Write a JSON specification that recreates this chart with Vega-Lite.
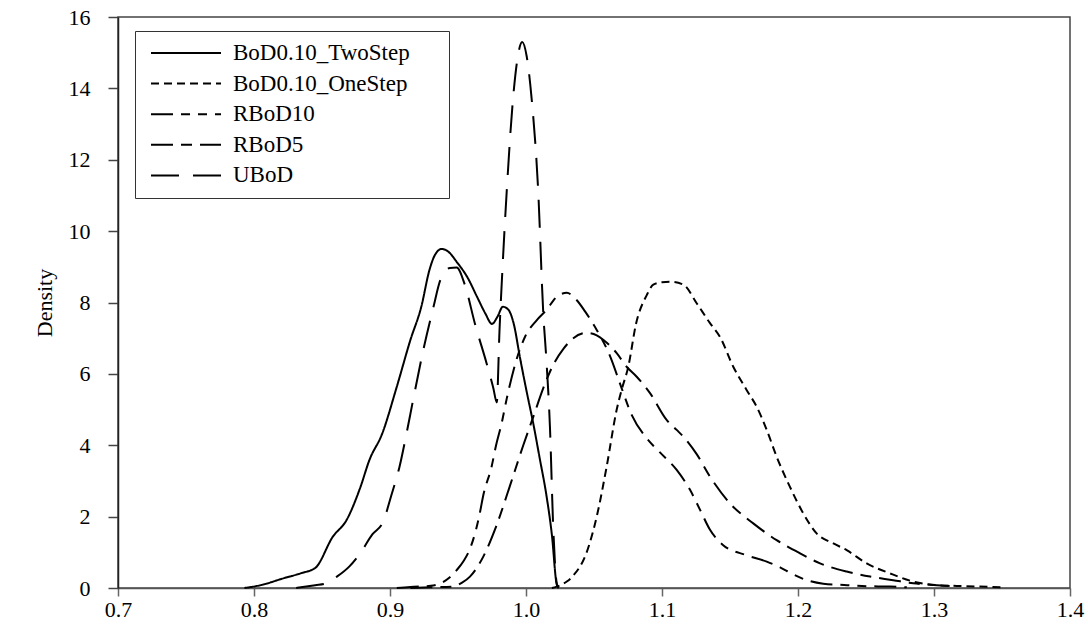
{
  "$schema": "https://vega.github.io/schema/vega-lite/v6.json",
  "width": 952,
  "height": 571,
  "autosize": {"type": "none"},
  "padding": {"left": 118, "top": 17, "right": 18, "bottom": 45},
  "background": "white",
  "config": {
    "view": {"stroke": "#444", "strokeWidth": 1.5},
    "font": "Liberation Serif",
    "axis": {"grid": false, "domainWidth": 1.5, "tickWidth": 1.5}
  },
  "data": {"values": [
    {"s": "BoD0.10_TwoStep", "x": 0.793, "d": 0.0},
    {"s": "BoD0.10_TwoStep", "x": 0.805, "d": 0.08},
    {"s": "BoD0.10_TwoStep", "x": 0.8215, "d": 0.27},
    {"s": "BoD0.10_TwoStep", "x": 0.835, "d": 0.42},
    {"s": "BoD0.10_TwoStep", "x": 0.845, "d": 0.56},
    {"s": "BoD0.10_TwoStep", "x": 0.858, "d": 1.44},
    {"s": "BoD0.10_TwoStep", "x": 0.868, "d": 1.9},
    {"s": "BoD0.10_TwoStep", "x": 0.878, "d": 2.8},
    {"s": "BoD0.10_TwoStep", "x": 0.885, "d": 3.6},
    {"s": "BoD0.10_TwoStep", "x": 0.894, "d": 4.3},
    {"s": "BoD0.10_TwoStep", "x": 0.905, "d": 5.64},
    {"s": "BoD0.10_TwoStep", "x": 0.915, "d": 6.95},
    {"s": "BoD0.10_TwoStep", "x": 0.923, "d": 7.88},
    {"s": "BoD0.10_TwoStep", "x": 0.929, "d": 8.91},
    {"s": "BoD0.10_TwoStep", "x": 0.933, "d": 9.33},
    {"s": "BoD0.10_TwoStep", "x": 0.938, "d": 9.5},
    {"s": "BoD0.10_TwoStep", "x": 0.943, "d": 9.42},
    {"s": "BoD0.10_TwoStep", "x": 0.949, "d": 9.14},
    {"s": "BoD0.10_TwoStep", "x": 0.957, "d": 8.7},
    {"s": "BoD0.10_TwoStep", "x": 0.964, "d": 8.16},
    {"s": "BoD0.10_TwoStep", "x": 0.97, "d": 7.7},
    {"s": "BoD0.10_TwoStep", "x": 0.975, "d": 7.4},
    {"s": "BoD0.10_TwoStep", "x": 0.979, "d": 7.6},
    {"s": "BoD0.10_TwoStep", "x": 0.983, "d": 7.88},
    {"s": "BoD0.10_TwoStep", "x": 0.987, "d": 7.8},
    {"s": "BoD0.10_TwoStep", "x": 0.991, "d": 7.4},
    {"s": "BoD0.10_TwoStep", "x": 0.9956, "d": 6.45},
    {"s": "BoD0.10_TwoStep", "x": 1.0005, "d": 5.5},
    {"s": "BoD0.10_TwoStep", "x": 1.0054, "d": 4.6},
    {"s": "BoD0.10_TwoStep", "x": 1.01, "d": 3.65},
    {"s": "BoD0.10_TwoStep", "x": 1.015, "d": 2.6},
    {"s": "BoD0.10_TwoStep", "x": 1.019, "d": 1.5},
    {"s": "BoD0.10_TwoStep", "x": 1.0226, "d": 0.1},
    {"s": "BoD0.10_TwoStep", "x": 1.024, "d": 0.0},

    {"s": "BoD0.10_OneStep", "x": 1.019, "d": 0.0},
    {"s": "BoD0.10_OneStep", "x": 1.0226, "d": 0.04},
    {"s": "BoD0.10_OneStep", "x": 1.03, "d": 0.18},
    {"s": "BoD0.10_OneStep", "x": 1.0348, "d": 0.35},
    {"s": "BoD0.10_OneStep", "x": 1.0446, "d": 1.0},
    {"s": "BoD0.10_OneStep", "x": 1.052, "d": 2.0},
    {"s": "BoD0.10_OneStep", "x": 1.0593, "d": 3.4},
    {"s": "BoD0.10_OneStep", "x": 1.0667, "d": 5.0},
    {"s": "BoD0.10_OneStep", "x": 1.0703, "d": 5.55},
    {"s": "BoD0.10_OneStep", "x": 1.0752, "d": 6.2},
    {"s": "BoD0.10_OneStep", "x": 1.081, "d": 7.42},
    {"s": "BoD0.10_OneStep", "x": 1.0887, "d": 8.2},
    {"s": "BoD0.10_OneStep", "x": 1.0936, "d": 8.5},
    {"s": "BoD0.10_OneStep", "x": 1.1, "d": 8.57},
    {"s": "BoD0.10_OneStep", "x": 1.106, "d": 8.58},
    {"s": "BoD0.10_OneStep", "x": 1.1157, "d": 8.5},
    {"s": "BoD0.10_OneStep", "x": 1.1255, "d": 7.98},
    {"s": "BoD0.10_OneStep", "x": 1.1353, "d": 7.42},
    {"s": "BoD0.10_OneStep", "x": 1.1426, "d": 7.04},
    {"s": "BoD0.10_OneStep", "x": 1.1524, "d": 6.2},
    {"s": "BoD0.10_OneStep", "x": 1.1622, "d": 5.55},
    {"s": "BoD0.10_OneStep", "x": 1.1696, "d": 5.08},
    {"s": "BoD0.10_OneStep", "x": 1.177, "d": 4.43},
    {"s": "BoD0.10_OneStep", "x": 1.1843, "d": 3.68},
    {"s": "BoD0.10_OneStep", "x": 1.194, "d": 2.84},
    {"s": "BoD0.10_OneStep", "x": 1.2039, "d": 2.09},
    {"s": "BoD0.10_OneStep", "x": 1.2137, "d": 1.53},
    {"s": "BoD0.10_OneStep", "x": 1.226, "d": 1.25},
    {"s": "BoD0.10_OneStep", "x": 1.2358, "d": 1.06},
    {"s": "BoD0.10_OneStep", "x": 1.2505, "d": 0.69},
    {"s": "BoD0.10_OneStep", "x": 1.2676, "d": 0.41},
    {"s": "BoD0.10_OneStep", "x": 1.2848, "d": 0.18},
    {"s": "BoD0.10_OneStep", "x": 1.302, "d": 0.08},
    {"s": "BoD0.10_OneStep", "x": 1.324, "d": 0.05},
    {"s": "BoD0.10_OneStep", "x": 1.35, "d": 0.02},

    {"s": "RBoD10", "x": 0.905, "d": 0.0},
    {"s": "RBoD10", "x": 0.915, "d": 0.03},
    {"s": "RBoD10", "x": 0.93, "d": 0.06},
    {"s": "RBoD10", "x": 0.937, "d": 0.13},
    {"s": "RBoD10", "x": 0.944, "d": 0.3},
    {"s": "RBoD10", "x": 0.949, "d": 0.5},
    {"s": "RBoD10", "x": 0.954, "d": 0.75},
    {"s": "RBoD10", "x": 0.9588, "d": 1.1},
    {"s": "RBoD10", "x": 0.963, "d": 1.6},
    {"s": "RBoD10", "x": 0.966, "d": 2.09},
    {"s": "RBoD10", "x": 0.9686, "d": 2.6},
    {"s": "RBoD10", "x": 0.9747, "d": 3.4},
    {"s": "RBoD10", "x": 0.978, "d": 4.0},
    {"s": "RBoD10", "x": 0.982, "d": 4.6},
    {"s": "RBoD10", "x": 0.9858, "d": 5.3},
    {"s": "RBoD10", "x": 0.993, "d": 6.4},
    {"s": "RBoD10", "x": 0.9993, "d": 7.04},
    {"s": "RBoD10", "x": 1.0078, "d": 7.5},
    {"s": "RBoD10", "x": 1.015, "d": 7.79},
    {"s": "RBoD10", "x": 1.0226, "d": 8.16},
    {"s": "RBoD10", "x": 1.03, "d": 8.27},
    {"s": "RBoD10", "x": 1.0372, "d": 8.07},
    {"s": "RBoD10", "x": 1.0434, "d": 7.75},
    {"s": "RBoD10", "x": 1.052, "d": 7.23},
    {"s": "RBoD10", "x": 1.0618, "d": 6.5},
    {"s": "RBoD10", "x": 1.0703, "d": 5.6},
    {"s": "RBoD10", "x": 1.0777, "d": 4.85},
    {"s": "RBoD10", "x": 1.0887, "d": 4.2},
    {"s": "RBoD10", "x": 1.0985, "d": 3.8},
    {"s": "RBoD10", "x": 1.1108, "d": 3.31},
    {"s": "RBoD10", "x": 1.1206, "d": 2.75},
    {"s": "RBoD10", "x": 1.128, "d": 2.19},
    {"s": "RBoD10", "x": 1.1353, "d": 1.63},
    {"s": "RBoD10", "x": 1.145, "d": 1.2},
    {"s": "RBoD10", "x": 1.162, "d": 0.92},
    {"s": "RBoD10", "x": 1.177, "d": 0.74},
    {"s": "RBoD10", "x": 1.1868, "d": 0.58},
    {"s": "RBoD10", "x": 1.1965, "d": 0.38},
    {"s": "RBoD10", "x": 1.2064, "d": 0.22},
    {"s": "RBoD10", "x": 1.2186, "d": 0.12},
    {"s": "RBoD10", "x": 1.236, "d": 0.08},
    {"s": "RBoD10", "x": 1.25, "d": 0.05},
    {"s": "RBoD10", "x": 1.2676, "d": 0.04},
    {"s": "RBoD10", "x": 1.28, "d": 0.02},

    {"s": "RBoD5", "x": 0.915, "d": 0.0},
    {"s": "RBoD5", "x": 0.93, "d": 0.02},
    {"s": "RBoD5", "x": 0.946, "d": 0.04},
    {"s": "RBoD5", "x": 0.953, "d": 0.15},
    {"s": "RBoD5", "x": 0.9588, "d": 0.32},
    {"s": "RBoD5", "x": 0.9686, "d": 0.88},
    {"s": "RBoD5", "x": 0.978, "d": 1.72},
    {"s": "RBoD5", "x": 0.988, "d": 2.84},
    {"s": "RBoD5", "x": 0.998, "d": 4.0},
    {"s": "RBoD5", "x": 1.0054, "d": 4.8},
    {"s": "RBoD5", "x": 1.0127, "d": 5.6},
    {"s": "RBoD5", "x": 1.02, "d": 6.25},
    {"s": "RBoD5", "x": 1.0275, "d": 6.7},
    {"s": "RBoD5", "x": 1.0348, "d": 7.0},
    {"s": "RBoD5", "x": 1.0446, "d": 7.15},
    {"s": "RBoD5", "x": 1.052, "d": 7.08},
    {"s": "RBoD5", "x": 1.057, "d": 6.95},
    {"s": "RBoD5", "x": 1.0667, "d": 6.58},
    {"s": "RBoD5", "x": 1.074, "d": 6.2},
    {"s": "RBoD5", "x": 1.0814, "d": 5.92},
    {"s": "RBoD5", "x": 1.0912, "d": 5.46},
    {"s": "RBoD5", "x": 1.1034, "d": 4.71},
    {"s": "RBoD5", "x": 1.1108, "d": 4.43},
    {"s": "RBoD5", "x": 1.1157, "d": 4.24},
    {"s": "RBoD5", "x": 1.1255, "d": 3.75},
    {"s": "RBoD5", "x": 1.1353, "d": 3.12},
    {"s": "RBoD5", "x": 1.15, "d": 2.37},
    {"s": "RBoD5", "x": 1.1671, "d": 1.81},
    {"s": "RBoD5", "x": 1.1843, "d": 1.34},
    {"s": "RBoD5", "x": 1.2015, "d": 0.97},
    {"s": "RBoD5", "x": 1.2162, "d": 0.69},
    {"s": "RBoD5", "x": 1.2358, "d": 0.46},
    {"s": "RBoD5", "x": 1.253, "d": 0.32},
    {"s": "RBoD5", "x": 1.27, "d": 0.22},
    {"s": "RBoD5", "x": 1.2848, "d": 0.13},
    {"s": "RBoD5", "x": 1.302, "d": 0.08},
    {"s": "RBoD5", "x": 1.314, "d": 0.05},

    {"s": "UBoD", "x": 0.831, "d": 0.0},
    {"s": "UBoD", "x": 0.845, "d": 0.08},
    {"s": "UBoD", "x": 0.853, "d": 0.13},
    {"s": "UBoD", "x": 0.861, "d": 0.32},
    {"s": "UBoD", "x": 0.87, "d": 0.6},
    {"s": "UBoD", "x": 0.878, "d": 0.97},
    {"s": "UBoD", "x": 0.887, "d": 1.5},
    {"s": "UBoD", "x": 0.895, "d": 1.86},
    {"s": "UBoD", "x": 0.901, "d": 2.6},
    {"s": "UBoD", "x": 0.907, "d": 3.4},
    {"s": "UBoD", "x": 0.912, "d": 4.3},
    {"s": "UBoD", "x": 0.917, "d": 5.27},
    {"s": "UBoD", "x": 0.9245, "d": 6.67},
    {"s": "UBoD", "x": 0.932, "d": 7.88},
    {"s": "UBoD", "x": 0.937, "d": 8.63},
    {"s": "UBoD", "x": 0.944, "d": 8.97},
    {"s": "UBoD", "x": 0.949, "d": 8.98},
    {"s": "UBoD", "x": 0.955, "d": 8.5},
    {"s": "UBoD", "x": 0.9625, "d": 7.4},
    {"s": "UBoD", "x": 0.971, "d": 6.3},
    {"s": "UBoD", "x": 0.976, "d": 5.6},
    {"s": "UBoD", "x": 0.9785, "d": 5.2},
    {"s": "UBoD", "x": 0.9805, "d": 7.2},
    {"s": "UBoD", "x": 0.9825, "d": 8.8},
    {"s": "UBoD", "x": 0.9858, "d": 11.1},
    {"s": "UBoD", "x": 0.9906, "d": 13.77},
    {"s": "UBoD", "x": 0.994, "d": 14.9},
    {"s": "UBoD", "x": 0.9972, "d": 15.3},
    {"s": "UBoD", "x": 1.0005, "d": 14.9},
    {"s": "UBoD", "x": 1.004, "d": 13.77},
    {"s": "UBoD", "x": 1.009, "d": 11.1},
    {"s": "UBoD", "x": 1.0127, "d": 7.7},
    {"s": "UBoD", "x": 1.015, "d": 6.39},
    {"s": "UBoD", "x": 1.0176, "d": 4.52},
    {"s": "UBoD", "x": 1.02, "d": 1.72},
    {"s": "UBoD", "x": 1.0226, "d": 0.13},
    {"s": "UBoD", "x": 1.024, "d": 0.0}
  ]},
  "mark": {"type": "line", "color": "black", "strokeWidth": 2, "interpolate": "monotone"},
  "encoding": {
    "x": {
      "field": "x", "type": "quantitative",
      "scale": {"domain": [0.7, 1.4], "nice": false, "zero": false},
      "axis": {
        "title": null, "values": [0.7, 0.8, 0.9, 1.0, 1.1, 1.2, 1.3, 1.4], "format": ".1f",
        "labelFont": "Liberation Serif", "labelFontSize": 22, "labelColor": "black",
        "labelPadding": 3, "labelFlush": false, "tickSize": 8,
        "domainColor": "#555", "tickColor": "#666"
      }
    },
    "y": {
      "field": "d", "type": "quantitative",
      "scale": {"domain": [0, 16], "nice": false},
      "axis": {
        "title": "Density", "values": [0, 2, 4, 6, 8, 10, 12, 14, 16],
        "labelFont": "Liberation Serif", "labelFontSize": 22, "labelColor": "black",
        "titleFont": "Liberation Serif", "titleFontSize": 22, "titleFontWeight": "normal", "titleColor": "black",
        "tickSize": 10, "labelPadding": 18, "labelFlush": false, "titlePadding": 12,
        "domainColor": "#222", "tickColor": "#444"
      }
    },
    "strokeDash": {
      "field": "s", "type": "nominal",
      "scale": {
        "domain": ["BoD0.10_TwoStep", "BoD0.10_OneStep", "RBoD10", "RBoD5", "UBoD"],
        "range": [[1, 0], [8, 5], [22, 8, 9, 8, 9, 8], [22, 8, 11, 8], [28, 14]]
      },
      "legend": {
        "title": null,
        "orient": "none",
        "legendX": 17,
        "legendY": 14,
        "symbolType": "stroke",
        "symbolSize": 4900,
        "symbolStrokeWidth": 2,
        "symbolStrokeColor": "black",
        "symbolOffset": 5,
        "labelFont": "Liberation Serif",
        "labelFontSize": 23,
        "labelColor": "black",
        "labelLimit": 400,
        "labelOffset": 11,
        "labelExpr": "datum.label + '\u00a0\u00a0\u00a0\u00a0\u00a0\u200b'",
        "clipHeight": 24,
        "rowPadding": 6.6,
        "padding": 10,
        "strokeColor": "#333",
        "fillColor": "white"
      }
    }
  }
}
